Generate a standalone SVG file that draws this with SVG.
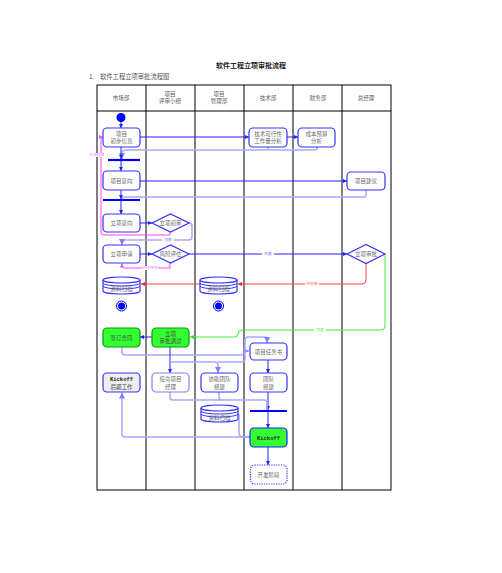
<svg xmlns="http://www.w3.org/2000/svg" width="502" height="573" viewBox="0 0 502 573">
<defs>
<style>
text{font-family:"Noto Sans CJK SC","Liberation Serif",serif;fill:#666;font-size:5.5px;text-anchor:middle}
.t{fill:#222;font-weight:bold;font-size:7px}
.h{fill:#555;font-size:5.5px}
.grid{stroke:#000;stroke-width:1;fill:none}
.n{fill:#fff;stroke:#3333ff;stroke-width:1.2}
.nl{fill:#fff;stroke:#8080ff;stroke-width:1.2}
.g{fill:#33ff33;stroke:#00a000;stroke-width:1.2}
.k{fill:#eee;stroke:#3333ff;stroke-width:1.2}
.dot{fill:#fff;stroke:#3333ff;stroke-width:1.2;stroke-dasharray:1.2 1.2}
.c{fill:none;stroke:#2020ff;stroke-width:1}
.cl{fill:none;stroke:#a8a8ff;stroke-width:1.5}
.cp{fill:none;stroke:#ff44ff;stroke-width:1}
.cr{fill:none;stroke:#ff4040;stroke-width:1}
.cg{fill:none;stroke:#40ee40;stroke-width:1}
.bar{stroke:#0000ff;stroke-width:2.2}
.mono{font-family:"Liberation Mono",monospace;font-weight:bold;fill:#222}
.lb{font-size:3.8px;fill:#8080ff}
.lp{font-size:3.8px;fill:#ff66ff}
.lr{font-size:3.8px;fill:#ff6060}
.lg{font-size:3.8px;fill:#60ee60}
</style>
<marker id="a" viewBox="0 0 6 6" refX="6" refY="3" markerWidth="4" markerHeight="4" orient="auto"><path d="M0,0L6,3L0,6z" fill="#2020ff"/></marker>
<marker id="ap" viewBox="0 0 6 6" refX="6" refY="3" markerWidth="4" markerHeight="4" orient="auto"><path d="M0,0L6,3L0,6z" fill="#ff44ff"/></marker>
<marker id="ar" viewBox="0 0 6 6" refX="6" refY="3" markerWidth="4" markerHeight="4" orient="auto"><path d="M0,0L6,3L0,6z" fill="#ff2020"/></marker>
<marker id="ag" viewBox="0 0 6 6" refX="6" refY="3" markerWidth="4" markerHeight="4" orient="auto"><path d="M0,0L6,3L0,6z" fill="#30dd30"/></marker>
<marker id="al" viewBox="0 0 6 6" refX="6" refY="3" markerWidth="4" markerHeight="4" orient="auto"><path d="M0,0L6,3L0,6z" fill="#8080ff"/></marker>
</defs>
<rect width="502" height="573" fill="#fff"/>
<text class="t" x="251" y="68">软件工程立项审批流程</text>
<text x="89" y="79" style="text-anchor:start;font-size:6.3px;fill:#555">1.</text>
<text x="100" y="79" style="text-anchor:start;font-size:6.3px;fill:#555">软件工程立项审批流程图</text>

<g id="grid">
<rect class="grid" x="97" y="85" width="294" height="405"/>
<line class="grid" x1="97" y1="111" x2="391" y2="111"/>
<line class="grid" x1="146" y1="85" x2="146" y2="490"/>
<line class="grid" x1="195" y1="85" x2="195" y2="490"/>
<line class="grid" x1="244" y1="85" x2="244" y2="490"/>
<line class="grid" x1="293" y1="85" x2="293" y2="490"/>
<line class="grid" x1="342" y1="85" x2="342" y2="490"/>
<text class="h" x="121" y="100">市场部</text>
<text class="h" x="170" y="96">项目</text><text class="h" x="170" y="103">评审小组</text>
<text class="h" x="219" y="96">项目</text><text class="h" x="219" y="103">管理部</text>
<text class="h" x="268" y="100">技术部</text>
<text class="h" x="318" y="100">财务部</text>
<text class="h" x="366" y="100">总经理</text>
</g>

<g id="connectors">
<!-- light return lines -->
<path class="cl" d="M268,147 V148 Q268,150 266,150 H126 Q122,150 122,154 V159" marker-end="url(#al)"/>
<path class="cl" d="M317,147 V148 Q317,150 315,150 H268"/>
<path class="cl" d="M366,190 V195 Q366,197 364,197 H126 Q122,197 122,199"/>
<!-- main blue -->
<path class="c" d="M121,122 V128" marker-end="url(#a)"/>
<path class="c" d="M121,147 V159" marker-end="url(#a)"/>
<path class="c" d="M121,161 V171" marker-end="url(#a)"/>
<path class="c" d="M121,190 V199" marker-end="url(#a)"/>
<path class="c" d="M121,201 V214" marker-end="url(#a)"/>
<path class="c" d="M140,137 H249" marker-end="url(#a)"/>
<path class="c" d="M287,137 H298" marker-end="url(#a)"/>
<path class="c" d="M140,181 H347" marker-end="url(#a)"/>
<path class="c" d="M140,223 H152" marker-end="url(#a)"/>
<path class="cl" d="M189,223 Q192,223 192,226 V237 Q192,240 189,240 H125 Q122,240 122,243 V245" marker-end="url(#al)"/>
<path class="c" d="M140,254 H152" marker-end="url(#a)"/>
<path class="c" d="M189,254 H347" marker-end="url(#a)"/>
<!-- pink -->
<path class="cp" d="M170,232 V235 H104 Q101,235 101,232 V140 Q101,137 103,137" marker-end="url(#ap)"/>
<path class="cp" d="M170,263 V268 H125 Q122,268 122,266 V263.5" marker-end="url(#ap)"/>
<!-- red -->
<path class="cr" d="M366,263 V280 Q366,284 362,284 H238" marker-end="url(#ar)"/>
<path class="cr" d="M201,284 H141" marker-end="url(#ar)"/>
<!-- green -->
<path class="cg" d="M384,254 H385 V326 Q385,330 381,330 H242 Q238,330 238,334 Q238,337 234,337 H190" marker-end="url(#ag)"/>
<!-- lower blue -->
<path class="c" d="M152,337 H140" marker-end="url(#a)"/>
<path class="cl" d="M122,347 V352 Q122,355 125,355 H241 Q244,355 244,352 Q244,351 249,351" marker-end="url(#al)"/>
<path class="c" d="M170,347 V373" marker-end="url(#a)"/>
<path class="cl" d="M170,362 H215 Q218,362 218,365 V373" marker-end="url(#al)"/>
<path class="cl" d="M218,362 H242 Q245,362 245,359 V340 Q245,337 248,337 H264 Q267,337 267,340 V343" marker-end="url(#al)"/>
<path class="c" d="M268,360 V373" marker-end="url(#a)"/>
<path class="c" d="M268,392 V410" marker-end="url(#a)"/>
<path class="cl" d="M170,392 V397 Q170,400 173,400 H264 Q267,400 267,403 V410"/>
<path class="cl" d="M219,392 V397 Q219,400 222,400"/>
<path class="c" d="M268,412 V428" marker-end="url(#a)"/>
<path class="c" d="M268,447 V465" marker-end="url(#a)"/>
<path class="cl" d="M250,437 H125 Q122,437 122,434 V392.5" marker-end="url(#al)"/>
<path class="cl" d="M239,414 V433 Q239,437 243,437 H250"/>
<!-- labels -->
<rect x="90" y="153" width="14" height="4" fill="#fff"/>
<text class="lp" x="97" y="156.3">补充信息</text>
<rect x="162" y="238" width="12" height="4" fill="#fff"/>
<text class="lb" x="168" y="241.3">同意</text>
<rect x="142" y="266" width="16" height="4" fill="#fff"/>
<text class="lp" x="150" y="269.3">风险评估</text>
<rect x="262" y="252" width="12" height="4" fill="#fff"/>
<text class="lb" x="268" y="255.3">同意</text>
<rect x="305" y="282" width="14" height="4" fill="#fff"/>
<text class="lr" x="312" y="285.3">不同意</text>
<rect x="314" y="328" width="12" height="4" fill="#fff"/>
<text class="lg" x="320" y="331.3">同意</text>
</g>

<g id="start"><circle cx="121" cy="117.5" r="4.5" fill="#0000ff"/></g>
<g id="n1"><rect class="n" x="103" y="128" width="37" height="19" rx="4"/><text x="121.5" y="136">项目</text><text x="121.5" y="143">初步信息</text></g>
<g id="bar1"><line class="bar" x1="108" y1="160" x2="140" y2="160"/></g>
<g id="n2"><rect class="n" x="249" y="128" width="38" height="19" rx="4"/><text x="268" y="136">技术可行性</text><text x="268" y="143">工作量分析</text></g>
<g id="n3"><rect class="n" x="298" y="128" width="37" height="19" rx="4"/><text x="316.5" y="136">成本预算</text><text x="316.5" y="143">分析</text></g>
<g id="n4"><rect class="n" x="103" y="171" width="37" height="19" rx="4"/><text x="121.5" y="183">项目意向</text></g>
<g id="n5"><rect class="n" x="347" y="172" width="38" height="18" rx="4"/><text x="366" y="183">项目建议</text></g>
<g id="bar2"><line class="bar" x1="103" y1="200" x2="140" y2="200"/></g>
<g id="n6"><rect class="n" x="103" y="214" width="37" height="18" rx="4"/><text x="121.5" y="225">立项意向</text></g>
<g id="d1"><path class="n" d="M152,223 L170.5,214 L189,223 L170.5,232 Z"/><text x="170.5" y="225">立项初审</text></g>
<g id="n7"><rect class="n" x="103" y="245" width="37" height="18" rx="4"/><text x="121.5" y="256">立项申请</text></g>
<g id="d2"><path class="n" d="M152,254 L170.5,245 L189,254 L170.5,263 Z"/><text x="170.5" y="256">风险评估</text></g>
<g id="d3"><path class="n" d="M347,254 L366,244.5 L385,254 L366,263.5 Z"/><text x="366" y="256">立项审批</text></g>
<g id="db1"><path class="n" d="M103,280 V291 A18.5,3 0 0 0 140,291 V280"/><ellipse class="n" cx="121.5" cy="280" rx="18.5" ry="3"/><path class="c" style="stroke:#3333ff" d="M103,283 A18.5,3 0 0 0 140,283 M103,286 A18.5,3 0 0 0 140,286"/><text x="121.5" y="291">资料归档</text></g>
<g id="end1"><circle cx="121.5" cy="306" r="5" fill="#fff" stroke="#0000ff" stroke-width="1"/><circle cx="121.5" cy="306" r="3.5" fill="#0000ff"/></g>
<g id="db2"><path class="n" d="M200,280 V291 A18.5,3 0 0 0 237,291 V280"/><ellipse class="n" cx="218.5" cy="280" rx="18.5" ry="3"/><path class="c" style="stroke:#3333ff" d="M200,283 A18.5,3 0 0 0 237,283 M200,286 A18.5,3 0 0 0 237,286"/><text x="218.5" y="291">资料归档</text></g>
<g id="end2"><circle cx="218.5" cy="306" r="5" fill="#fff" stroke="#0000ff" stroke-width="1"/><circle cx="218.5" cy="306" r="3.5" fill="#0000ff"/></g>
<g id="n8"><rect class="g" x="103" y="328" width="37" height="19" rx="4"/><text x="121.5" y="339.5" style="fill:#444">签订合同</text></g>
<g id="n9"><rect class="g" x="152" y="328" width="37" height="19" rx="4"/><text x="170.5" y="336" style="fill:#444">立项</text><text x="170.5" y="343" style="fill:#444">审批通过</text></g>
<g id="n10"><rect class="n" x="250" y="343" width="37" height="17" rx="4"/><text x="268.5" y="353.5">项目任务书</text></g>
<g id="n11"><rect class="k" x="103" y="373" width="37" height="19" rx="4"/><text class="mono" x="121.5" y="381" style="font-size:5.5px">Kickoff</text><text x="121.5" y="388.5" style="fill:#444">后期工作</text></g>
<g id="n12"><rect class="nl" x="152" y="373" width="37" height="19" rx="4"/><text x="170.5" y="381">任命项目</text><text x="170.5" y="388.5">经理</text></g>
<g id="n13"><rect class="n" x="201" y="373" width="37" height="19" rx="4"/><text x="219.5" y="381">协助团队</text><text x="219.5" y="388.5">组建</text></g>
<g id="n14"><rect class="n" x="250" y="373" width="37" height="19" rx="4"/><text x="268.5" y="381">团队</text><text x="268.5" y="388.5">组建</text></g>
<g id="bar3"><line class="bar" x1="250" y1="411" x2="287" y2="411"/></g>
<g id="db3"><path class="n" d="M201,408 V419 A18.5,3 0 0 0 238,419 V408"/><ellipse class="n" cx="219.5" cy="408" rx="18.5" ry="3"/><path class="c" style="stroke:#3333ff" d="M201,411 A18.5,3 0 0 0 238,411 M201,414 A18.5,3 0 0 0 238,414"/><text x="219.5" y="420">资料归档</text></g>
<g id="n15"><rect class="g" x="250" y="428" width="37" height="19" rx="4" style="stroke:#2020ff"/><text class="mono" x="268.5" y="439.5" style="font-size:5.5px">Kickoff</text></g>
<g id="n16"><rect class="dot" x="250.5" y="465" width="36.5" height="19" rx="4"/><text x="268.5" y="476.5">开发阶段</text></g>
</svg>
